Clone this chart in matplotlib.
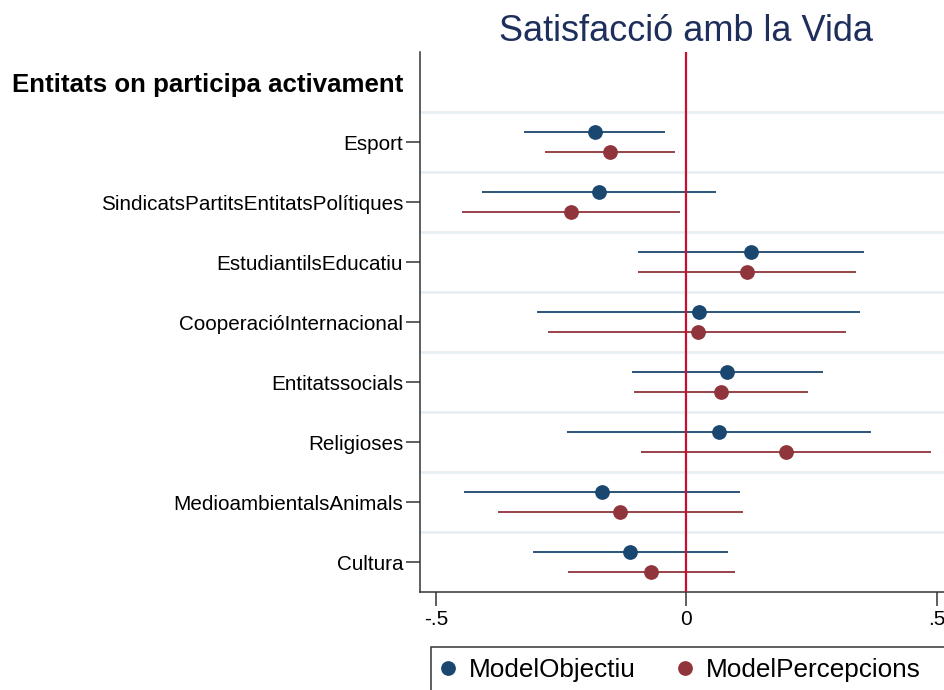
import numpy as np
import matplotlib
matplotlib.use("Agg")
import matplotlib.pyplot as plt
from matplotlib.lines import Line2D
from matplotlib.patches import Rectangle

plt.rcParams['font.family'] = ['Liberation Sans', 'DejaVu Sans']

title = "Satisfacció amb la Vida"
header = "Entitats on participa activament"
categories = ["Esport", "SindicatsPartitsEntitatsPolítiques", "EstudiantilsEducatiu",
              "CooperacióInternacional", "Entitatssocials", "Religioses",
              "MedioambientalsAnimals", "Cultura"]

# ModelObjectiu: estimate, lower, upper
obj_est = [-0.183, -0.175, 0.129, 0.024, 0.081, 0.065, -0.169, -0.112]
obj_lo = [-0.325, -0.407, -0.097, -0.298, -0.109, -0.238, -0.444, -0.306]
obj_hi = [-0.042, 0.059, 0.355, 0.347, 0.272, 0.368, 0.107, 0.082]

# ModelPercepcions: estimate, lower, upper
per_est = [-0.153, -0.231, 0.120, 0.022, 0.069, 0.198, -0.132, -0.070]
per_lo = [-0.283, -0.448, -0.097, -0.276, -0.104, -0.091, -0.376, -0.236]
per_hi = [-0.023, -0.013, 0.338, 0.318, 0.243, 0.487, 0.113, 0.097]

series = [("ModelObjectiu", obj_est, obj_lo, obj_hi, "#1a476f", -1 / 6),
          ("ModelPercepcions", per_est, per_lo, per_hi, "#90353b", 1 / 6)]

fig = plt.figure(figsize=(9.44, 6.9), dpi=100)
ax = fig.add_axes([0.4449, 0.1416, 1 - 0.4449, 0.7826])

pos = np.arange(1, len(categories) + 1)
handles = []
for name, est, lo, hi, col, off in series:
    y = pos + off
    ax.hlines(y, lo, hi, color=col, lw=1.3, zorder=2)
    ax.plot(est, y, 'o', color=col, ms=9.6, zorder=4)
    handles.append(Line2D([], [], marker='o', ls='', color=col, ms=9.6, label=name))

ax.axvline(0, color='#c8102e', lw=1.6, zorder=3)

ax.set_xlim(-0.5316, 0.5137)
ax.set_ylim(8.5, -0.5)
ax.set_xticks([-0.5, 0, 0.5])
ax.set_xticklabels(["-.5", "0", ".5"], fontsize=15)
ax.set_yticks(np.arange(0, len(categories) + 1))
ax.set_yticklabels([header] + categories, fontsize=14.9)
ylabs = ax.get_yticklabels()
ylabs[0].set_fontweight('bold')
ylabs[0].set_fontsize(18.6)
ax.yaxis.get_major_ticks()[0].tick1line.set_visible(False)

# light separators between categories
ax.set_yticks(np.arange(0.5, len(categories)), minor=True)
ax.tick_params(axis='y', which='minor', length=0)
ax.grid(True, which='minor', axis='y', color='#e8eff2', lw=2)
ax.set_axisbelow(True)

ax.tick_params(axis='both', which='major', length=10, width=1.1, color='#333333', labelcolor='black')
ax.tick_params(axis='x', pad=3)
ax.tick_params(axis='y', pad=2.2)
for s in ['top', 'right']:
    ax.spines[s].set_visible(False)
for s in ['left', 'bottom']:
    ax.spines[s].set_color('#333333')
    ax.spines[s].set_linewidth(1.1)

fig.text(0.7272, 0.941, title, fontsize=26, color='#1e2f5c', ha='center', va='baseline')

# legend box runs off the right and bottom edges, as in the reference
fig.patches.append(Rectangle((431 / 944, -0.05), 0.6, 1 - 647 / 690 + 0.05,
                             transform=fig.transFigure, fill=False,
                             edgecolor='#333333', lw=1.1))
leg = fig.legend(handles=handles, loc='upper left', bbox_to_anchor=(431 / 944, 1 - 649 / 690),
                 ncol=2, fontsize=18.8, frameon=False, borderpad=0.36,
                 handlelength=0.6, handletextpad=0.5, columnspacing=1.6, borderaxespad=0)

fig.savefig("out.png", dpi=100)
